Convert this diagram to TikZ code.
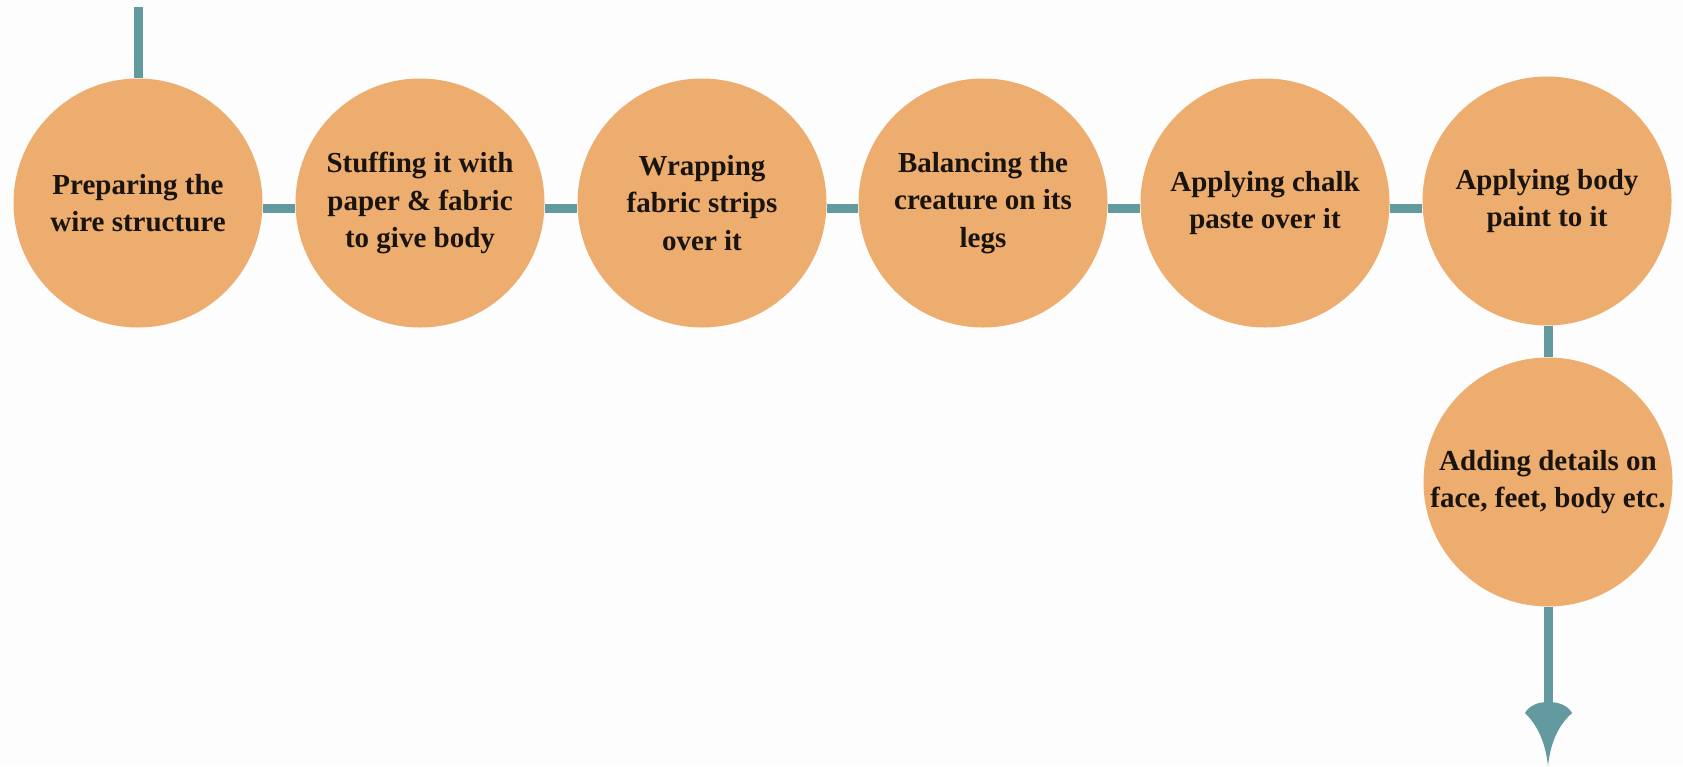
\documentclass[tikz,border=0pt]{standalone}
\usepackage{fontspec}
\setmainfont{Liberation Serif}
\definecolor{teal1}{RGB}{98,154,160}
\definecolor{sand}{RGB}{236,173,110}
\definecolor{bg}{RGB}{253,253,253}
\definecolor{ink}{RGB}{26,20,16}
\begin{document}
\begin{tikzpicture}[x=1pt,y=-1pt,
  stepcirc/.style={circle,fill=sand,minimum size=249pt,inner sep=0pt,align=center,
    text=ink,font=\bfseries\fontsize{29}{37.5}\selectfont},
  conn/.style={draw=teal1,line width=9pt}]
\fill[bg] (0,0) rectangle (1683,766);
\useasboundingbox (0,0) rectangle (1683,766);
\node[stepcirc] (c1) at (138,203) {Preparing the\\wire structure};
\node[stepcirc] (c2) at (420,203) {Stuffing it with\\paper \& fabric\\to give body};
\node[stepcirc] (c3) at (702,203) {Wrapping\\fabric strips\\over it};
\node[stepcirc] (c4) at (983,203) {Balancing the\\creature on its\\legs};
\node[stepcirc] (c5) at (1265,203) {Applying chalk\\paste over it};
\node[stepcirc] (c6) at (1547,201) {Applying body\\paint to it};
\node[stepcirc] (c7) at (1548,482) {Adding details on\\face, feet, body etc.};
\coordinate (top) at (138,7);
\coordinate (tail) at (1548,706);
\draw[conn] (top) -- (c1);
\draw[conn] ([yshift=-5pt]c1.east) -- ([yshift=-5pt]c2.west);
\draw[conn] ([yshift=-5pt]c2.east) -- ([yshift=-5pt]c3.west);
\draw[conn] ([yshift=-5pt]c3.east) -- ([yshift=-5pt]c4.west);
\draw[conn] ([yshift=-5pt]c4.east) -- ([yshift=-5pt]c5.west);
\draw[conn] ([yshift=-5pt]c5.east) -- ([yshift=-5pt]c5.east -| c6.west);
\draw[conn] (c6.south -| c7) -- (c7);
\draw[conn] (c7) -- (tail);
\fill[teal1] (1548,702)
  .. controls (1560,702) and (1568,706) .. (1572,713)
  .. controls (1561,723) and (1551,738) .. (1548,766)
  .. controls (1545,738) and (1535,723) .. (1525,713)
  .. controls (1529,706) and (1537,702) .. cycle;
\end{tikzpicture}
\end{document}
